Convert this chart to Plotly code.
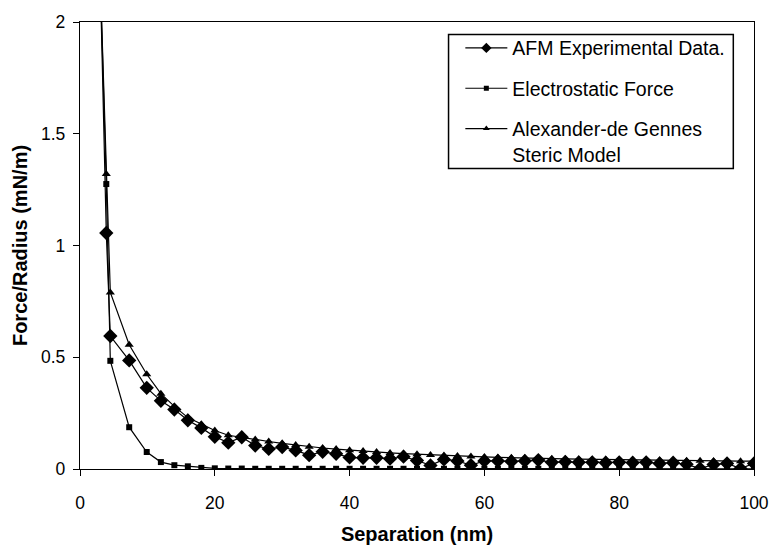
import plotly.graph_objects as go

# Separation (nm) at which each force value was taken
separation = [3.0, 3.9, 4.5, 7.3, 9.9,
              12, 14, 16, 18, 20, 22, 24, 26, 28, 30,
              32, 34, 36, 38, 40, 42, 44, 46, 48, 50,
              52, 54, 56, 58, 60, 62, 64, 66, 68, 70,
              72, 74, 76, 78, 80, 82, 84, 86, 88, 90,
              92, 94, 96, 98, 100]

# Force/Radius (mN/m)
afm_data = [2.2, 1.056, 0.595, 0.486, 0.363,
            0.305, 0.266, 0.218, 0.184, 0.144, 0.118, 0.142, 0.105, 0.090, 0.098,
            0.083, 0.062, 0.077, 0.068, 0.052, 0.050, 0.050, 0.046, 0.055, 0.038,
            0.016, 0.043, 0.036, 0.017, 0.036, 0.036, 0.034, 0.036, 0.040, 0.030,
            0.032, 0.030, 0.030, 0.028, 0.030, 0.028, 0.030, 0.025, 0.028, 0.021,
            0.002, 0.020, 0.025, 0.002, 0.025]

electrostatic = [2.2, 1.275, 0.484, 0.187, 0.076,
                 0.031, 0.017, 0.012, 0.005, 0.003, 0.002, 0.002, 0.001, 0.001, 0.001,
                 0.001, 0.001, 0.001, 0.001, 0.001, 0.001, 0.001, 0.001, 0.001, 0.001,
                 0.001, 0.001, 0.001, 0.001, 0.001, 0.001, 0.001, 0.001, 0.001, 0.001,
                 0.001, 0.001, 0.001, 0.001, 0.001, 0.001, 0.001, 0.001, 0.001, 0.001,
                 0.001, 0.001, 0.001, 0.001, 0.001]

steric_model = [2.2, 1.32, 0.79, 0.556, 0.424,
                0.337, 0.280, 0.230, 0.200, 0.172, 0.151, 0.141, 0.132, 0.123, 0.115,
                0.107, 0.100, 0.094, 0.089, 0.084, 0.080, 0.076, 0.072, 0.069, 0.066,
                0.063, 0.060, 0.058, 0.056, 0.054, 0.052, 0.050, 0.049, 0.047, 0.046,
                0.045, 0.044, 0.043, 0.042, 0.041, 0.040, 0.039, 0.039, 0.038, 0.037,
                0.037, 0.036, 0.036, 0.035, 0.035]

series_names = ["AFM Experimental Data.", "Electrostatic Force",
                "Alexander-de Gennes<br>Steric Model"]

x_ticks = [0, 20, 40, 60, 80, 100]
x_tick_labels = ["0", "20", "40", "60", "80", "100"]
y_ticks = [0, 0.5, 1, 1.5, 2]
y_tick_labels = ["0", "0.5", "1", "1.5", "2"]

FONT = "Liberation Sans, Arial, Helvetica, sans-serif"

fig = go.Figure()

# (values, marker symbol, plot marker size, legend marker size)
styles = [
    (afm_data, "diamond", 11, 8),
    (electrostatic, "square", 6, 5),
    (steric_model, "triangle-up", 8, 6),
]
for i, (values, symbol, size, key_size) in enumerate(styles):
    fig.add_trace(go.Scatter(
        x=separation, y=values, name=series_names[i],
        mode="lines+markers", showlegend=False,
        line=dict(color="black", width=1.2),
        marker=dict(symbol=symbol, size=size, color="black",
                    line=dict(width=0)),
        cliponaxis=True,
    ))
    # key entry with the smaller symbol used in the legend
    fig.add_trace(go.Scatter(
        x=[None], y=[None], name=series_names[i],
        mode="lines+markers", legendgroup=f"g{i}",
        line=dict(color="black", width=1.2),
        marker=dict(symbol=symbol, size=key_size, color="black",
                    line=dict(width=0)),
    ))

axis_common = dict(
    showgrid=False, zeroline=False, showline=True, mirror=True,
    linecolor="black", linewidth=1.3,
    ticks="outside", ticklen=6, tickwidth=1.2, tickcolor="black",
    tickfont=dict(family=FONT, size=17.5, color="black"),
)

fig.update_layout(
    width=781, height=553,
    margin=dict(l=80, r=17, t=16, b=73),
    paper_bgcolor="white", plot_bgcolor="white",
    font=dict(family=FONT, color="black"),
    xaxis=dict(range=[0, 100], tickmode="array", tickvals=x_ticks,
               ticktext=x_tick_labels, ticklabelstandoff=12,
               title=dict(text="Separation (nm)", standoff=14,
                          font=dict(family=FONT, size=20, weight="bold")),
               **axis_common),
    yaxis=dict(range=[0, 2], tickmode="array", tickvals=y_ticks,
               ticktext=y_tick_labels, ticklabelstandoff=4,
               title=dict(text="Force/Radius (mN/m)", standoff=8,
                          font=dict(family=FONT, size=20, weight="bold")),
               **axis_common),
    legend=dict(x=0.5643, y=0.985, xanchor="left", yanchor="top",
                bgcolor="rgba(0,0,0,0)", borderwidth=0,
                font=dict(family=FONT, size=19.5, color="black"),
                tracegroupgap=12, valign="top", itemwidth=42),
    # frame around the key
    shapes=[dict(type="rect", xref="paper", yref="paper",
                 x0=0.5468, x1=0.9693, y0=0.6724, y1=0.972,
                 line=dict(color="black", width=1.5),
                 fillcolor="white", layer="above")],
    showlegend=True,
)

fig.write_html("out.html")
